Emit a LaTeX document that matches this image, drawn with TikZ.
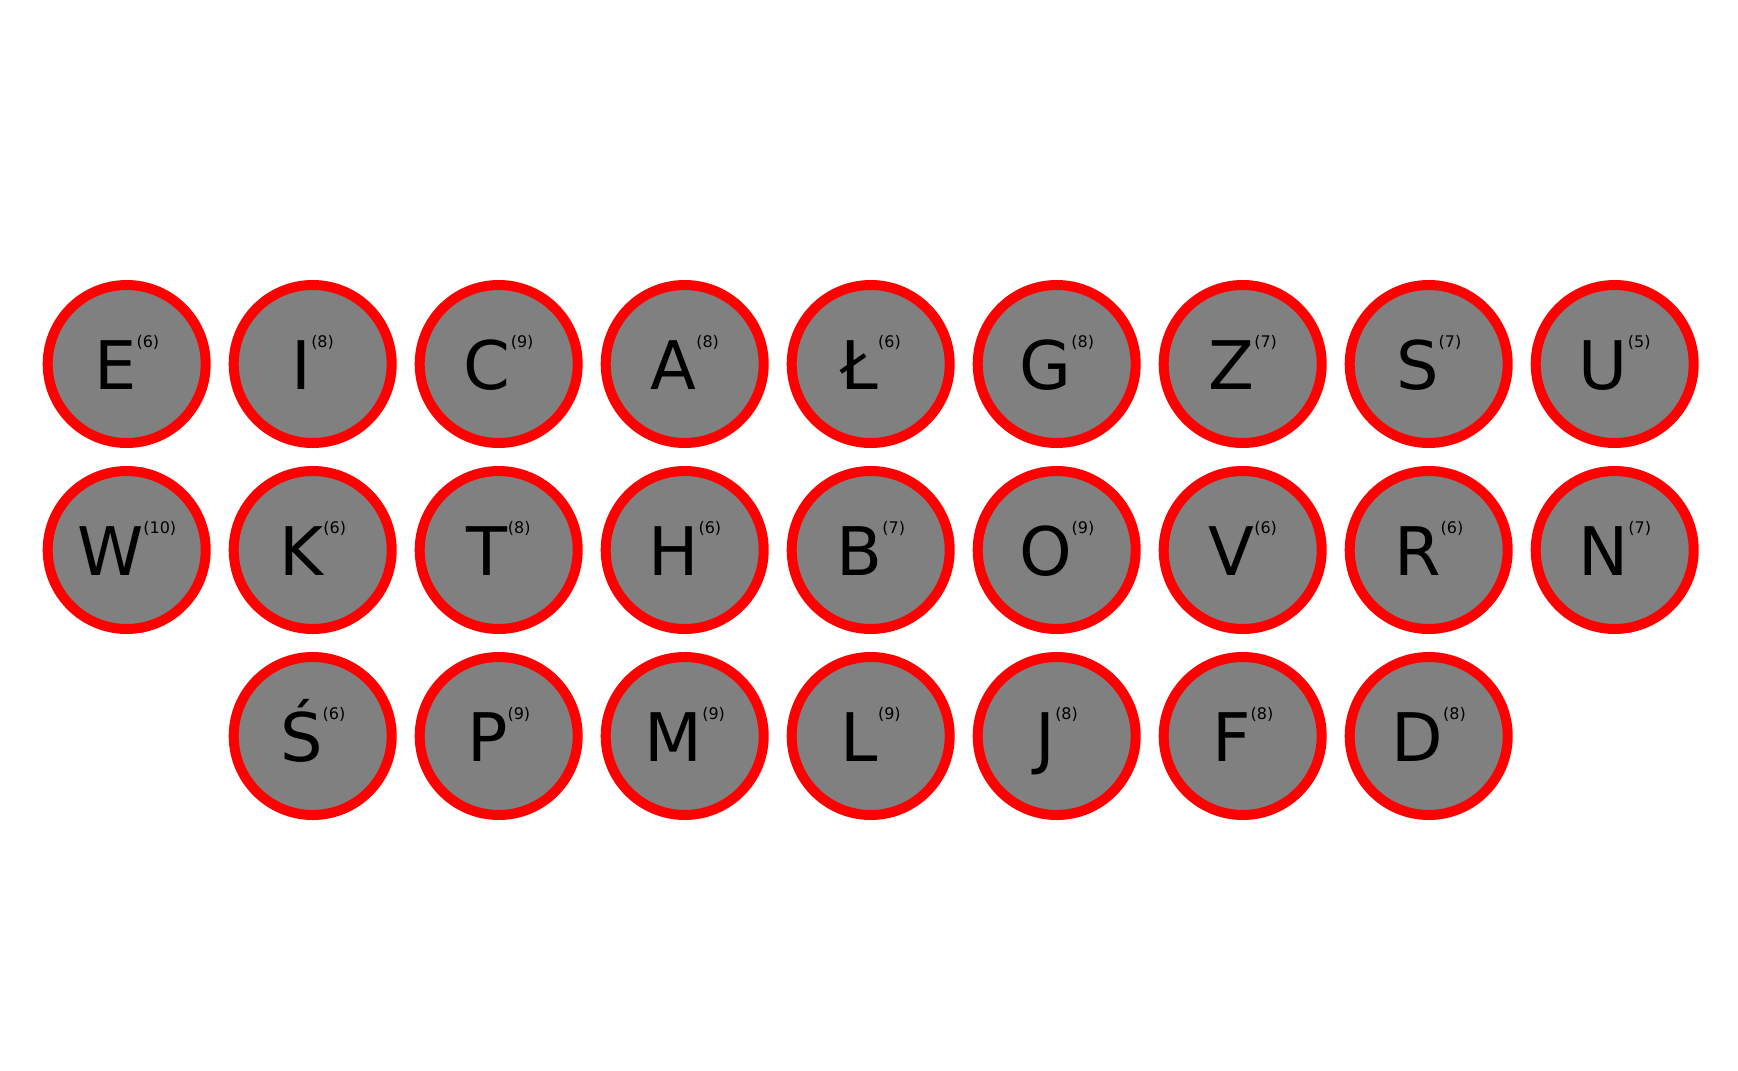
\documentclass[tikz,border=0pt]{standalone}
\usepackage{fontspec}
\setmainfont{DejaVu Sans}
\definecolor{ballfill}{HTML}{808080}
\definecolor{ballring}{HTML}{FF0000}
\begin{document}
\begin{tikzpicture}[x=1pt,y=1pt,
  ball/.style={circle,draw=ballring,fill=ballfill,line width=10pt,minimum size=158pt,inner sep=0pt},
  lbl/.style={anchor=base,inner sep=0pt,text=black}]
\useasboundingbox (0,0) rectangle (1738,-1071);
\foreach \l/\n/\c/\r in {E/6/1/1, I/8/2/1, C/9/3/1, A/8/4/1, Ł/6/5/1, G/8/6/1, Z/7/7/1, S/7/8/1, U/5/9/1,
  W/10/1/2, K/6/2/2, T/8/3/2, H/6/4/2, B/7/5/2, O/9/6/2, V/6/7/2, R/6/8/2, N/7/9/2,
  Ś/6/2/3, P/9/3/3, M/9/4/3, L/9/5/3, J/8/6/3, F/8/7/3, D/8/8/3} {
  \node[ball] (b\c-\r) at ({126.7+186*(\c-1)},{-364-186*(\r-1)}) {};
  \node[lbl] (t\c-\r) at ({126.7+186*(\c-1)},{-389-186*(\r-1)})
    {\fontsize{67}{67}\selectfont \l\raisebox{42pt}{\fontsize{16}{16}\selectfont (\n)}};
}
\end{tikzpicture}
\end{document}
